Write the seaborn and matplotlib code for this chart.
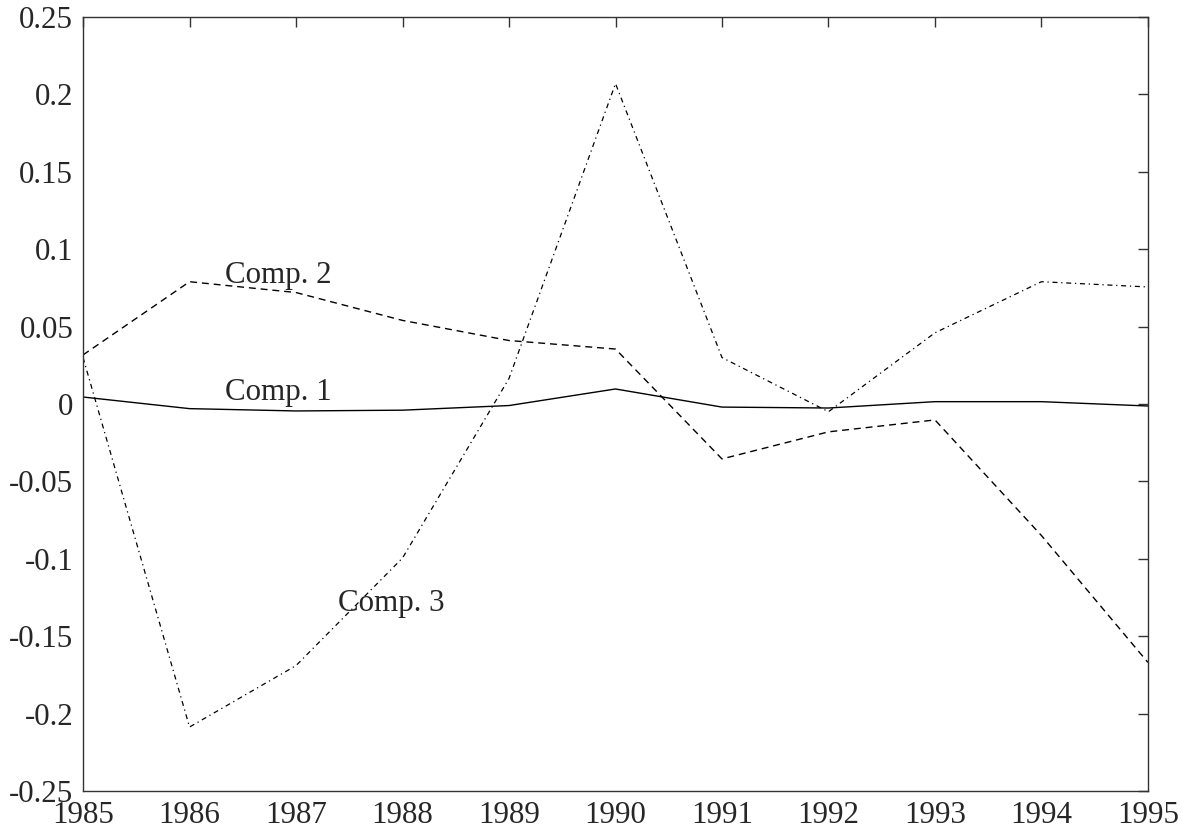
import numpy as np
import pandas as pd
import seaborn as sns
import matplotlib
matplotlib.use('Agg')
import matplotlib.pyplot as plt

years = [1985, 1986, 1987, 1988, 1989, 1990, 1991, 1992, 1993, 1994, 1995]
comp1 = [0.0045, -0.003, -0.0045, -0.004, -0.001, 0.0097, -0.002, -0.0026, 0.0015, 0.0015, -0.0013]
comp2 = [0.0317, 0.079, 0.072, 0.054, 0.041, 0.0355, -0.0355, -0.018, -0.0103, -0.085, -0.167]
comp3 = [0.030, -0.2087, -0.169, -0.0995, 0.0165, 0.207, 0.030, -0.005, 0.046, 0.079, 0.0756]

yticks = [-0.25, -0.2, -0.15, -0.1, -0.05, 0, 0.05, 0.1, 0.15, 0.2, 0.25]

sns.set_style('white')
plt.rcParams['font.family'] = ['Liberation Serif', 'DejaVu Serif']
plt.rcParams['axes.unicode_minus'] = False

fig = plt.figure(figsize=(11.88, 8.34), dpi=100)
ax = fig.add_axes([0.0699, 0.0516, 0.8964, 0.928])

df = pd.DataFrame({'year': years, 'c1': comp1, 'c2': comp2, 'c3': comp3})
sns.lineplot(data=df, x='year', y='c1', ax=ax, color='black', lw=1.0)
sns.lineplot(data=df, x='year', y='c2', ax=ax, color='black', lw=1.0, dashes=False,
             linestyle=(0, (5, 3.5)))
sns.lineplot(data=df, x='year', y='c3', ax=ax, color='black', lw=0.9, dashes=False,
             linestyle=(0, (4, 3, 1, 3)))

ax.text(1986.33, 0.078, 'Comp. 2', fontsize=22.3, va='baseline', ha='left')
ax.text(1986.33, 0.0026, 'Comp. 1', fontsize=22.3, va='baseline', ha='left')
ax.text(1987.39, -0.134, 'Comp. 3', fontsize=22.3, va='baseline', ha='left')

ax.set_xlim(1985, 1995)
ax.set_ylim(-0.25, 0.25)
ax.set_xticks(years)
ax.set_xticklabels([str(y) for y in years])
ax.set_yticks(yticks)
ax.set_yticklabels(['%g' % t for t in yticks])
ax.set_xlabel('')
ax.set_ylabel('')

for s in ax.spines.values():
    s.set_visible(True)
    s.set_color('#333333')
    s.set_linewidth(1.0)
ax.tick_params(axis='both', which='major', direction='in', length=7, width=1,
               color='#333333', labelsize=22.3, top=True, right=True)
ax.tick_params(axis='x', pad=7)
ax.tick_params(axis='y', pad=7)

fig.savefig('out.png', dpi=100)
